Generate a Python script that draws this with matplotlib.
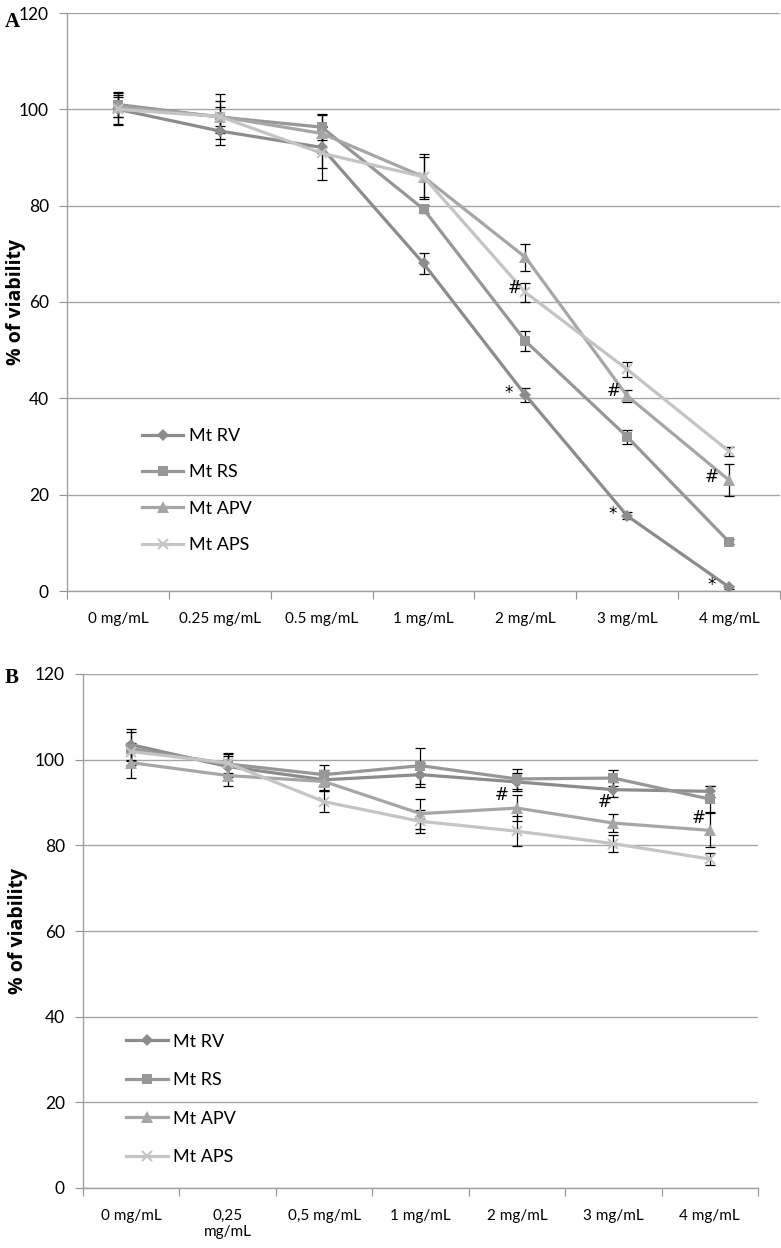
import numpy as np
import matplotlib.pyplot as plt

# categories
doses_a = ['0 mg/mL', '0.25 mg/mL', '0.5 mg/mL', '1 mg/mL', '2 mg/mL',
           '3 mg/mL', '4 mg/mL']
doses_b = ['0 mg/mL', '0,25\nmg/mL', '0,5 mg/mL', '1 mg/mL', '2 mg/mL',
           '3 mg/mL', '4 mg/mL']
names = ['Mt RV', 'Mt RS', 'Mt APV', 'Mt APS']

# panel A : % of viability and errors
rv_a = [100, 95.5, 92.1, 68.0, 40.7, 15.6, 0.8]
rs_a = [101, 98.4, 96.3, 79.3, 51.9, 32.0, 10.2]
apv_a = [100.5, 98.5, 95.0, 86.0, 69.3, 40.5, 23.0]
aps_a = [100, 98.5, 90.9, 86.0, 62.0, 46.0, 29.0]
rv_a_err = [3.3, 3.0, 4.3, 2.2, 1.5, 0.7, 0.3]
rs_a_err = [2.5, 3.3, 2.6, 0.8, 2.1, 1.5, 0.5]
apv_a_err = [2.0, 4.7, 4.0, 4.7, 2.8, 1.2, 3.3]
aps_a_err = [3.0, 2.0, 5.6, 4.1, 2.0, 1.5, 1.0]

# panel B
rv_b = [103.5, 98.4, 95.3, 96.5, 94.8, 93.0, 92.6]
rs_b = [102.6, 99.0, 96.5, 98.6, 95.5, 95.7, 90.8]
apv_b = [99.3, 96.3, 94.9, 87.4, 88.7, 85.2, 83.5]
aps_b = [101.9, 99.2, 90.2, 85.6, 83.3, 80.4, 76.8]
rv_b_err = [3.7, 2.5, 2.4, 2.8, 2.0, 1.7, 1.3]
rs_b_err = [3.8, 2.6, 2.3, 4.2, 2.4, 1.8, 3.0]
apv_b_err = [3.5, 2.4, 2.3, 3.5, 3.0, 2.2, 4.0]
aps_b_err = [2.0, 2.2, 2.5, 2.7, 3.5, 2.0, 1.5]

# significance marks: (symbol, series index, dose index)
marks_a = [('*', 0, 4), ('*', 0, 5), ('*', 0, 6),
           ('#', 3, 4), ('#', 2, 5), ('#', 2, 6)]
marks_b = [('#', 2, 4), ('#', 2, 5), ('#', 2, 6)]

colors = ['#8c8c8c', '#979797', '#a6a6a6', '#c4c4c4']
markers = ['D', 's', '^', 'x']
msizes = [6, 7.5, 8, 7]

plt.rcParams['font.family'] = ['Lato', 'DejaVu Sans']

fig = plt.figure(figsize=(7.81, 12.48), dpi=100)
ax_a = fig.add_axes([67 / 781, 1 - 591 / 1248, 713 / 781, 578 / 1248])
ax_b = fig.add_axes([83 / 781, 1 - 1188 / 1248, 675 / 781, 514 / 1248])


def draw_panel(ax, doses, vals, errs, marks, mark_off, leg_anchor, lsp):
    x = np.arange(len(doses))
    for k in range(len(names)):
        ax.errorbar(x, vals[k], yerr=errs[k], fmt='none', ecolor='black',
                    elinewidth=0.9, capsize=3.5, capthick=0.9, zorder=2)
    for k in range(len(names)):
        ax.plot(x, vals[k], color=colors[k], lw=2.3, marker=markers[k],
                ms=msizes[k], mew=1.5 if markers[k] == 'x' else 0,
                mfc=colors[k], mec=colors[k], label=names[k], zorder=3)
    for (sym, k, i), off in zip(marks, mark_off):
        ax.annotate(sym, (x[i], vals[k][i]), xytext=off,
                    textcoords='offset pixels', ha='center', va='center',
                    fontsize=12, family='DejaVu Sans', zorder=4)
    ax.set_xlim(-0.5, len(doses) - 0.5)
    ax.set_ylim(0, 120)
    ax.set_yticks(range(0, 121, 20))
    ax.set_xticks(np.arange(len(doses) + 1) - 0.5)
    ax.set_xticklabels([])
    ax.set_xticks(x, minor=True)
    ax.set_xticklabels(doses, minor=True, fontsize=11)
    ax.tick_params(axis='x', which='major', length=6, color='#909090')
    ax.tick_params(axis='x', which='minor', length=0, pad=15)
    ax.tick_params(axis='y', length=6, color='#909090', labelsize=12.5,
                   pad=7)
    ax.grid(axis='y', color='#a6a6a6', lw=1)
    ax.set_axisbelow(True)
    for s in ['top', 'right']:
        ax.spines[s].set_visible(False)
    for s in ['left', 'bottom']:
        ax.spines[s].set_color('#a0a0a0')
        ax.spines[s].set_linewidth(1)
    ax.set_ylabel('% of viability', fontsize=14, fontweight='bold',
                  family='Open Sans')
    leg = ax.legend(loc='upper left', bbox_to_anchor=leg_anchor,
                    frameon=False, fontsize=13, handlelength=2.3,
                    handletextpad=0.3, labelspacing=lsp, borderpad=0,
                    borderaxespad=0)
    for t in leg.get_texts():
        t.set_color('black')


draw_panel(ax_a, doses_a, [rv_a, rs_a, apv_a, aps_a],
           [rv_a_err, rs_a_err, apv_a_err, aps_a_err], marks_a,
           [(-17, 2), (-15, 2), (-17, 2), (-11, 4), (-14, 5), (-17, 3)],
           (0.105, 0.282), 1.13)
ax_a.yaxis.set_label_coords(-0.058, 0.5)

draw_panel(ax_b, doses_b, [rv_b, rs_b, apv_b, aps_b],
           [rv_b_err, rs_b_err, apv_b_err, aps_b_err], marks_b,
           [(-15, 13), (-9, 21), (-11, 12)],
           (0.064, 0.300), 1.24)
ax_b.yaxis.set_label_coords(-0.082, 0.5)

fig.text(5 / 781, 1 - 22 / 1248, 'A', fontsize=15, fontweight='bold',
         family='Liberation Serif', va='center')
fig.text(5 / 781, 1 - 678 / 1248, 'B', fontsize=15, fontweight='bold',
         family='Liberation Serif', va='center')

plt.savefig('out.png', dpi=100)
